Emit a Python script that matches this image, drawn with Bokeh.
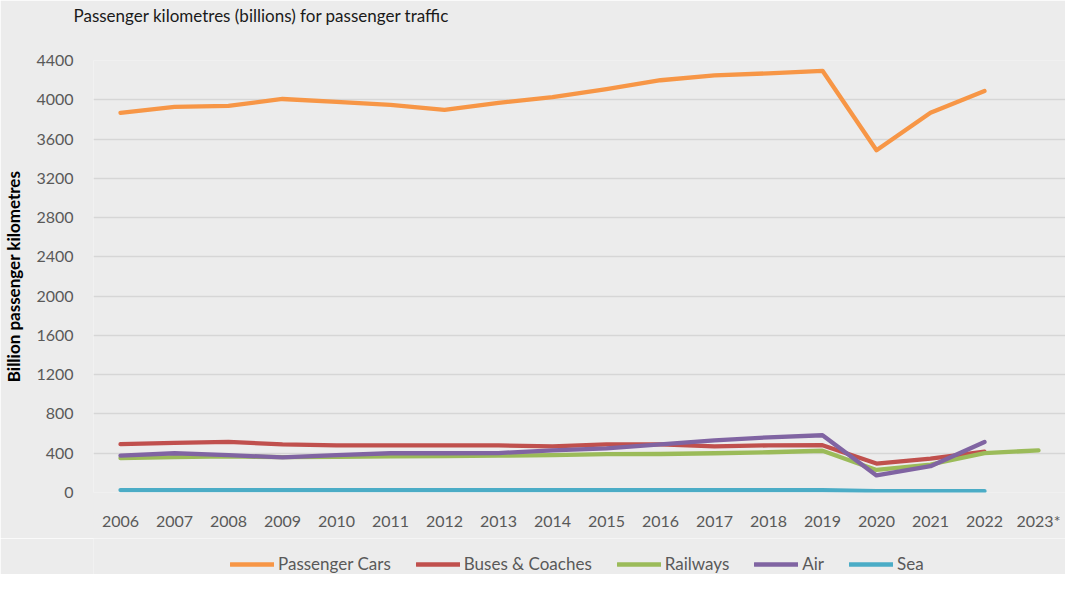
from bokeh.plotting import figure
from bokeh.layouts import column
from bokeh.models import Range1d, FixedTicker, Legend, LegendItem, Title
from bokeh.embed import file_html
from bokeh.resources import INLINE

years = ["2006", "2007", "2008", "2009", "2010", "2011", "2012", "2013", "2014",
         "2015", "2016", "2017", "2018", "2019", "2020", "2021", "2022", "2023*"]

cars_years = years[:17]
cars = [3867, 3928, 3938, 4008, 3978, 3948, 3897, 3968, 4028, 4108, 4199, 4249,
        4269, 4295, 3486, 3868, 4090]
buses_years = years[:17]
buses = [492, 505, 515, 490, 480, 480, 480, 480, 470, 490, 490, 470, 480, 482,
         295, 345, 415]
rail_years = years[:18]
railways = [350, 360, 368, 360, 362, 368, 370, 375, 380, 390, 392, 400, 410, 425,
            230, 285, 400, 430]
air_years = years[:17]
air = [375, 400, 380, 358, 380, 400, 400, 402, 430, 450, 490, 530, 562, 583,
       174, 268, 515]
sea_years = years[:17]
sea = [25, 25, 25, 25, 25, 25, 25, 25, 25, 25, 25, 25, 25, 25, 15, 15, 15]

series_names = ["Passenger Cars", "Buses & Coaches", "Railways", "Air", "Sea"]
colors = ["#f79646", "#c0504d", "#9bbb59", "#8064a2", "#4bacc6"]

BG = "#ececec"
FONT = "Lato"
TXT = "#595959"
LW = 4.3

p = figure(x_range=years, y_range=Range1d(0, 4400), width=1065, height=538,
           output_backend="svg", toolbar_location=None,
           background_fill_color=BG, border_fill_color=BG,
           min_border_left=82, min_border_right=0, min_border_top=10,
           min_border_bottom=46)
p.outline_line_color = None

p.title = Title(text="Passenger kilometres (billions) for passenger traffic",
                text_font=FONT, text_font_size="17px", text_font_style="normal",
                text_color="#1a1a1a", align="left", offset=-20, standoff=4)
# empty spacer between title and plot area
p.add_layout(Title(text=" ", text_font_size="14px", standoff=15), "above")

p.yaxis.ticker = FixedTicker(ticks=list(range(0, 4401, 400)))
p.yaxis.axis_label = "Billion passenger kilometres"
p.yaxis.axis_label_text_font = FONT
p.yaxis.axis_label_text_font_size = "17px"
p.yaxis.axis_label_text_font_style = "bold"
p.yaxis.axis_label_text_color = "#000000"
p.yaxis.axis_label_standoff = 9
for ax in (p.xaxis, p.yaxis):
    ax.axis_line_color = None
    ax.major_tick_line_color = None
    ax.minor_tick_line_color = None
    ax.major_label_text_font = FONT
    ax.major_label_text_font_size = "16px"
    ax.major_label_text_color = TXT
p.yaxis.major_label_standoff = 14
p.xaxis.major_label_standoff = 12

p.xgrid.grid_line_color = None
p.ygrid.grid_line_color = "#d6d6d6"
p.ygrid.grid_line_width = 1.5

data = [(cars_years, cars), (buses_years, buses), (rail_years, railways),
        (air_years, air), (sea_years, sea)]
for (xs, ys), c in zip(data, colors):
    p.line(xs, ys, line_color=c, line_width=LW, line_join="round", line_cap="round")

# legend strip below the chart (series drawn out of view; only the legend shows)
lg = figure(width=1065, height=36, output_backend="svg", toolbar_location=None,
            x_range=years, y_range=Range1d(100000, 100001),
            x_axis_type=None, y_axis_type=None, min_border=0,
            background_fill_color=BG, border_fill_color=BG)
lg.outline_line_color = None
lg.grid.visible = False
items = []
for (xs, ys), name, c in zip(data, series_names, colors):
    r = lg.line(xs, ys, line_color=c, line_width=LW, line_cap="round")
    items.append(LegendItem(label=name, renderers=[r]))
legend = Legend(items=items, orientation="horizontal", location=(137, 0),
                background_fill_color=BG, background_fill_alpha=1,
                border_line_color=None, label_text_font=FONT,
                label_text_font_size="17px", label_text_color=TXT,
                glyph_width=44, glyph_height=16, spacing=25, padding=2,
                label_standoff=4, margin=0)
lg.add_layout(legend)

layout = column(p, lg, spacing=0)
open("out.html", "w").write(file_html(layout, INLINE))
